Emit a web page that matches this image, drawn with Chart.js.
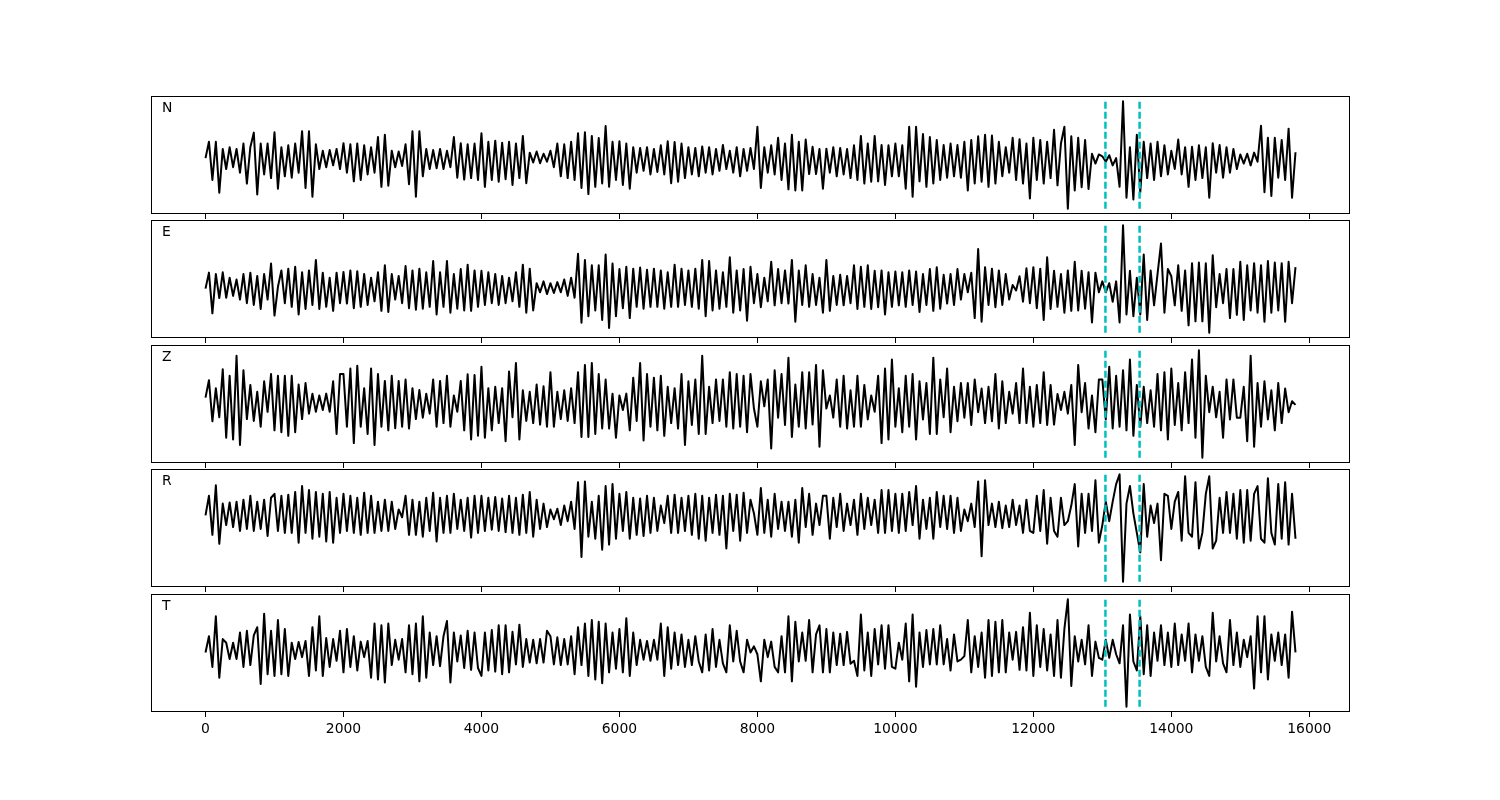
<!DOCTYPE html>
<html>
<head>
<meta charset="utf-8">
<script src="https://cdn.jsdelivr.net/npm/chart.js@4.4.1/dist/chart.umd.min.js"></script>
<style>
  body { margin: 0; background: #fff; }
  #wrap { position: relative; width: 1500px; height: 800px; }
  #wrap canvas { position: absolute; left: 0; }
</style>
</head>
<body>
<div id="wrap"></div>
<script>
// samples every 50 units, 0 .. 15800
const step = 50
const picks = [13045, 13540]
const xTicks = [0, 2000, 4000, 6000, 8000, 10000, 12000, 14000, 16000]
const channels = ['N', 'E', 'Z', 'R', 'T']

const traceN = [
  0, 45, -60, 45, -95, 25, -30, 30, -25, 25, -40, 40, -70, 30, 70, -100, 40, -45, 40, -55,
  71, -84, 30, -50, 35, -54, 40, -40, 74, -82, 74, -106, 38, -30, 20, -25, 22, -20, 25, -30,
  41, -40, 38, -64, 40, -60, 35, -45, 30, -40, 58, -79, 64, -76, 20, -25, 18, -22, 38, -72,
  74, -106, 74, -50, 25, -30, 22, -28, 25, -30, 20, -25, 58, -54, 41, -59, 38, -55, 40, -60,
  68, -79, 45, -60, 48, -65, 42, -58, 45, -74, 40, -55, 61, -69, 15, -12, 18, -14, 12, -10,
  20, -25, 40, -50, 38, -55, 45, -60, 68, -82, 71, -99, 61, -79, 55, -70, 88, -79, 45, -60,
  46, -74, 40, -84, 30, -40, 28, -35, 30, -45, 25, -38, 35, -45, 46, -69, 44, -65, 40, -55,
  30, -45, 28, -50, 32, -40, 30, -45, 25, -35, 36, -30, 20, -40, 30, -50, 25, -35, 28, -30,
  86, -82, 30, -40, 35, -45, 56, -60, 40, -86, 64, -89, 45, -89, 51, -44, 31, -44, 25, -84,
  26, -40, 30, -50, 28, -45, 25, -55, 35, -60, 61, -70, 40, -65, 61, -64, 36, -74, 35, -50,
  40, -50, 35, -84, 86, -106, 86, -64, 66, -79, 58, -70, 50, -60, 36, -54, 40, -50, 36, -54,
  45, -89, 50, -70, 60, -65, 64, -79, 62, -70, 45, -50, 30, -40, 56, -60, 52, -70, 40, -111,
  56, -60, 50, -70, 45, -55, 78, -75, 40, 86, -139, 60, -89, 56, -80, 50, -85, 12, -15, 10,
  5, -10, 8, -20, 0, -79, 156, -109, 30, -114, 64, -94, 45, -55, 40, -60, 45, -50, 35, -45,
  20, -30, 51, -45, 30, -79, 31, -60, 35, -55, 30, -109, 41, -40, 36, -54, 30, -40, 25, -30,
  10, -15, 12, -20, 15, -10, 89, -94, 56, -104, 56, -54, 50, -60, 81, -109, 16
]

const traceE = [
  0, 44, -68, 40, -26, 45, -25, 30, -20, 25, -30, 40, -40, 44, -45, 35, -56, 40, -30, 69,
  -74, 5, 50, -40, 55, -50, 60, -71, 45, -56, 50, -45, 79, -56, 44, -50, 30, -61, 44, -40,
  46, -41, 50, -54, 48, -50, 40, -45, 30, -35, 45, -61, 64, -64, 40, -30, 35, -40, 62, -54,
  50, -58, 55, -55, 45, -50, 76, -71, 45, -50, 76, -66, 40, -55, 54, -60, 66, -61, 50, -50,
  49, -45, 45, -40, 40, -45, 35, -40, 30, -35, 45, -50, 66, -66, 55, -60, 15, -10, 20, -15,
  15, -12, 18, -10, 25, -20, 30, -25, 96, -94, 79, -76, 64, -60, 64, -86, 94, -108, 69, -76,
  54, -54, 60, -81, 55, -50, 58, -55, 52, -50, 55, -50, 50, -55, 45, -50, 66, -50, 55, -45,
  50, -50, 55, -55, 79, -76, 76, -60, 50, -55, 45, -50, 86, -66, 50, -60, 54, -88, 60, -40,
  40, -51, 30, -35, 74, -46, 54, -40, 50, -41, 79, -91, 50, -45, 64, -50, 40, -45, 30, -66,
  79, -61, 35, -45, 38, -46, 35, -40, 64, -56, 60, -50, 64, -56, 49, -51, 50, -71, 45, -50,
  47, -46, 45, -50, 50, -45, 47, -64, 40, -45, 54, -61, 59, -55, 38, -41, 40, -45, 54, -30,
  40, -10, 44, -81, 109, -91, 59, -45, 55, -51, 50, -45, 40, -30, 10, -5, 34, -36, 56, -40,
  59, -54, 55, -86, 86, -56, 49, -50, 40, -66, 50, -61, 74, -60, 49, -55, 45, -93, 44, -10,
  20, -10, 15, -36, 20, -93, 174, -71, 49, -76, 30, -71, 94, -86, 50, -46, 40, 124, -66, 54,
  34, -46, 64, -61, 50, -101, 70, -90, 72, -90, 70, -121, 92, -51, 40, -40, 54, -81, 54, -72,
  74, -86, 64, -60, 70, -66, 64, -91, 76, -66, 72, -60, 70, -91, 74, -40, 59
]

const traceZ = [
  14, 62, -51, 40, -40, 92, -96, 74, -101, 129, -116, 89, -45, 49, -50, 30, -66, 59, -25, 79,
  -76, 74, -81, 74, -91, 74, -81, 50, -45, 54, -30, 25, -25, 20, -20, 25, -25, 59, -86, 79,
  79, -66, 94, -111, 102, -66, 40, -86, 94, -116, 79, -66, 60, -76, 74, -70, 60, -66, 64, -71,
  40, -45, 35, -41, 25, -30, 64, -66, 60, -56, 74, -66, 20, -25, 60, -76, 78, -101, 76, -91,
  99, -96, 40, -76, 44, -56, 40, -106, 86, -40, 109, -101, 34, -50, 30, -56, 50, -60, 45, -66,
  84, -66, 30, -45, 34, -50, 40, -56, 84, -94, 104, -94, 109, -86, 79, -71, 64, -71, 25, -96,
  20, -20, 25, -76, 69, -50, 109, -104, 79, -66, 69, -76, 74, -91, 44, -56, 40, -71, 79, -116,
  59, -61, 64, -86, 129, -86, 44, -56, 64, -50, 64, -66, 84, -71, 79, -66, 74, -81, 79, -16,
  -66, 59, -10, 64, -126, 89, -41, 79, -61, 124, -94, 50, -66, 84, -71, 84, -60, 104, -121, 89,
  -16, 20, -41, 64, -66, 74, -71, 34, -66, 74, -66, 49, -46, 20, -25, 74, -111, 94, -101, 119,
  -66, 40, -81, 74, -66, 79, -101, 59, -46, 54, -86, 124, -86, 64, -40, 94, -81, 44, -51, 54,
  -41, 54, -61, 64, -26, 39, -56, 44, -51, 79, -71, 59, -56, 30, -30, 54, -56, 94, -56, 44,
  -66, 49, -56, 84, -61, 49, -60, 24, -20, 30, -30, 49, -116, 104, -26, 54, -71, 20, -81, 64,
  64, -46, 99, -71, 74, -66, 89, -76, 119, -91, 49, -66, 44, -56, 34, -66, 79, -76, 84, -101,
  94, -61, 54, -76, 84, -56, 119, -96, 144, -151, 74, -26, 44, -40, 30, -96, 64, -46, 64, -41,
  -41, 44, -106, 129, -121, 54, -66, 59, -46, 34, -76, 54, -56, 39, -26, 4, -6
]

const traceR = [
  -5, 45, -55, 72, -78, 25, -30, 28, -35, 30, -45, 35, -40, 45, -45, 30, -40, 35, -58, 40,
  50, -45, 45, -50, 48, -50, 55, -75, 70, -50, 60, -65, 55, -60, 50, -72, 55, -75, 40, -50,
  50, -45, 45, -50, 40, -55, 53, -50, 45, -50, 30, -45, 35, -45, 30, -40, 10, -10, 45, -55,
  35, -55, 30, -60, 40, -45, 53, -72, 40, -50, 45, -50, 50, -40, 35, -45, 40, -62, 45, -50,
  45, -45, 40, -42, 42, -45, 38, -48, 45, -50, 40, -55, 48, -50, 55, -60, 35, -40, 25, -35,
  10, -15, 12, -30, 20, -20, 30, -40, 80, -112, 82, -60, 30, -65, 45, -93, 70, -80, 75, -65,
  50, -45, 55, -65, 40, -55, 38, -58, 45, -50, 40, -45, 20, -25, 45, -50, 48, -50, 40, -45,
  45, -55, 50, -65, 45, -70, 40, -50, 48, -55, 45, -90, 50, -45, 48, -70, 53, -50, 35, 0,
  -55, 65, -50, 35, -60, 50, -40, 30, -45, 30, -60, 35, -75, 65, -35, 50, -55, 25, -30, 45,
  45, -65, 40, -35, 50, -45, 25, -30, 35, -55, 50, -40, 40, -30, 35, -50, 60, -50, 60, -45,
  50, -50, 50, -45, 55, -30, 70, -65, 35, -40, 40, -65, 55, -35, 45, -40, 45, -50, 40, -45,
  10, -20, 25, -35, 82, -110, 85, -30, 25, -35, 30, -38, 20, -35, 35, -30, 20, -50, 35, -45,
  -50, 45, -45, 60, -78, 40, -45, -60, 40, -30, -20, 20, 75, -85, 50, -50, 50, -45, 85, -75,
  -30, 30, -20, 30, 75, 100, -175, 25, 70, 0, -50, -100, 75, -60, 20, -25, 25, -120, 50, 45,
  -40, 30, 55, -70, 95, -50, -60, 80, -90, -50, 50, 95, -90, -70, 40, -50, 55, -50, 50, -65,
  60, -75, 60, -70, 50, 70, -65, -75, 90, -50, -80, 75, -65, 80, -80, 50, -65
]

const traceT = [
  -7, 38, -47, 93, -77, 30, 20, -25, 20, -25, 48, -47, 53, -42, 40, 63, -94, 100, -67, 53,
  -72, 83, -67, 58, -72, 20, -25, 22, -20, 25, -72, 63, -57, 93, -72, 33, -47, 30, -30, 53,
  -62, 58, -47, 38, -57, 23, -20, 25, -77, 73, -82, 68, -90, 73, -42, 28, -27, 30, -62, 68,
  -67, 73, -87, 93, -77, 48, -42, 38, -45, 38, 80, -90, 48, -32, 40, -50, 53, -55, 48, -50,
  -72, 48, -57, 55, -60, 68, -67, 68, -62, 50, -40, 70, -47, 30, -35, 28, -37, 30, -35, 53,
  38, -40, 35, -42, 30, -40, 38, -67, 63, -42, 73, -72, 83, -82, 78, -92, 73, -62, 48, -52,
  58, -62, 88, -72, 48, -42, 28, -27, 25, -30, 28, -27, 73, -72, 63, -52, 48, -42, 43, -47,
  28, -42, 38, -32, -62, 43, -57, 58, -47, 28, -37, -62, 68, -32, 53, -32, -62, 28, -7, 10,
  -12, -87, 28, -20, 23, -47, -62, 38, -62, 93, -87, 78, -32, 48, -30, 83, -62, 43, 68, -62,
  58, -62, 48, -42, 45, -42, 50, -38, -30, -72, 98, -57, 48, -72, 58, -40, 68, -52, 68, -47,
  -52, 20, -27, 73, -87, 98, -102, 48, -47, 55, -40, 58, -40, 68, -40, 30, -57, 43, -32, -27,
  -17, 83, -62, 38, -47, 48, -77, 83, -72, 78, -62, 83, -62, 48, -27, 50, -55, 63, -57, 103,
  -72, 68, -47, 58, -57, 43, -72, 83, -77, 58, 140, -100, 38, -32, 28, -40, 68, -72, 23, -22,
  -27, 28, -22, 28, -12, -37, 68, -157, 98, -32, -57, 93, -67, 68, -72, 48, -30, 68, -42, 48,
  -47, 73, -42, 43, -30, 73, -62, 43, -30, 38, -47, -72, 103, -32, 38, -37, -62, 83, -42, 48,
  -47, 28, -20, 38, -107, 93, -62, 93, -82, 43, -30, 48, -42, 43, -77, 106, -7
]

const traces = [traceN, traceE, traceZ, traceR, traceT]

// panel placement
const panelTops = [96, 220, 345, 469, 594]
const panelHeight = 118

// frame + channel name in the corner
const boxPlugin = {
  id: 'box',
  afterDraw(chart, args, opts) {
    const ctx = chart.ctx
    const a = chart.chartArea
    ctx.save()
    ctx.strokeStyle = '#000'
    ctx.lineWidth = 1
    ctx.strokeRect(a.left + 0.5, a.top + 0.5, a.right - a.left - 1, a.bottom - a.top - 1)
    ctx.fillStyle = '#000'
    ctx.font = '13.9px "DejaVu Sans"'
    ctx.textBaseline = 'middle'
    ctx.fillText(opts.label, a.left + 11, a.top + 12)
    ctx.restore()
  }
}

const wrap = document.getElementById('wrap')

channels.forEach(function(name, i) {
  const values = traces[i]
  const lo = Math.min(...values)
  const hi = Math.max(...values)
  const pad = (hi - lo) * 0.05
  const isLast = i === channels.length - 1

  const canvas = document.createElement('canvas')
  canvas.width = 1500
  canvas.height = panelHeight + 41
  canvas.style.top = (panelTops[i] - 1) + 'px'
  wrap.appendChild(canvas)

  const pickSets = picks.map(function(p) {
    return {
      data: [{x: p, y: lo}, {x: p, y: hi}],
      borderColor: '#00bfbf',
      borderWidth: 2.5,
      borderDash: [7, 3],
      pointRadius: 0,
      order: 1
    }
  })

  new Chart(canvas, {
    type: 'line',
    data: {
      datasets: [{
        data: values.map(function(v, k) { return {x: k * step, y: v} }),
        borderColor: '#000',
        borderWidth: 2,
        borderJoinStyle: 'round',
        pointRadius: 0,
        order: 2
      }].concat(pickSets)
    },
    options: {
      responsive: false,
      animation: false,
      devicePixelRatio: 1,
      layout: {padding: {left: 151, right: 150, top: 1, bottom: 0}},
      plugins: {
        legend: {display: false},
        tooltip: {enabled: false},
        box: {label: name}
      },
      scales: {
        x: {
          type: 'linear',
          min: -790,
          max: 16590,
          afterBuildTicks: function(axis) { axis.ticks = xTicks.map(function(v) { return {value: v} }) },
          afterFit: function(axis) { axis.height = 40 },
          grid: {drawOnChartArea: false, drawTicks: true, tickLength: 5, color: '#000'},
          border: {display: false},
          ticks: {
            display: isLast,
            color: '#000',
            font: {family: 'DejaVu Sans', size: 13.9},
            padding: 4,
            maxRotation: 0,
            autoSkip: false,
            callback: function(v) { return String(v) }
          }
        },
        y: {display: false, min: lo - pad, max: hi + pad}
      }
    },
    plugins: [boxPlugin]
  })
})
</script>
</body>
</html>
